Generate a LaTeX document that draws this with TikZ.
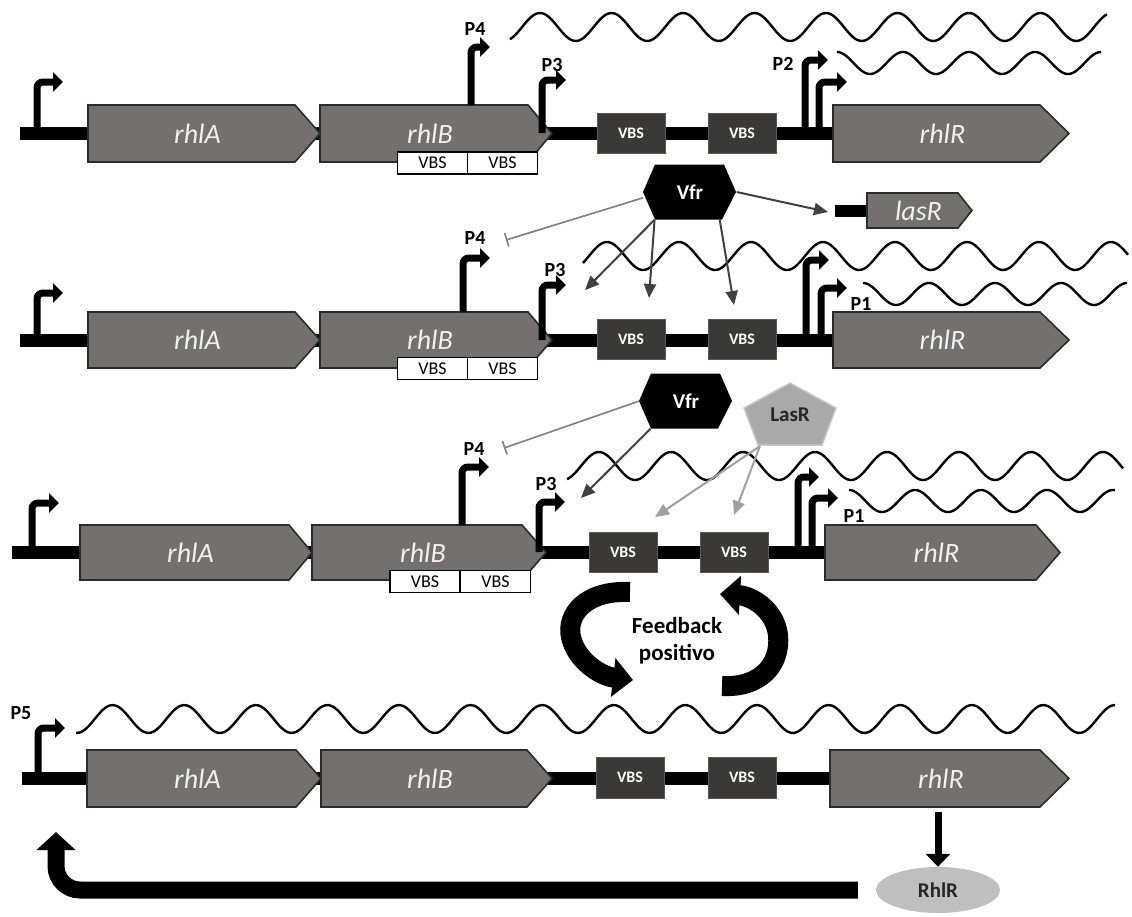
\documentclass[tikz,border=0pt]{standalone}
\usepackage{fontspec}
\setmainfont{Carlito}
\usetikzlibrary{arrows.meta,shapes.geometric}

\definecolor{genefill}{HTML}{757070}
\definecolor{geneline}{HTML}{2B2B2B}
\definecolor{vbsfill}{HTML}{3B3838}
\definecolor{vbsline}{HTML}{595959}
\definecolor{lasfill}{HTML}{A9A9A9}
\definecolor{lasline}{HTML}{C8C8C8}
\definecolor{rhlfill}{HTML}{BFBFBF}
\definecolor{vfrgray}{HTML}{404040}
\definecolor{inhgray}{HTML}{7F7F7F}
\definecolor{lasgray}{HTML}{A0A0A0}

\tikzset{
  dna/.style={line width=13pt},
  genebody/.style={fill=genefill, draw=geneline, line width=1.6pt, line join=miter},
  genelabel/.style={text=white!94!black, font=\fontsize{28}{30}\selectfont\itshape, inner sep=0pt},
  promoter/.style={line width=7pt, rounded corners=6pt, -{Triangle[length=10pt,width=19pt]}},
  plabel/.style={font=\fontsize{20}{21}\selectfont\bfseries, inner sep=0pt},
  vbsdark/.style={fill=vbsfill, draw=vbsline, line width=1pt, minimum width=68pt, minimum height=40pt, inner sep=0pt, text=white, font=\fontsize{16}{17}\selectfont\bfseries},
  vbswhite/.style={fill=white, draw=black, line width=1.6pt, minimum width=70pt, minimum height=22pt, inner sep=0pt, font=\fontsize{18}{19}\selectfont},
  waveline/.style={line width=2.4pt, line join=round},
  vfrarrow/.style={draw=vfrgray, line width=2pt, -{Triangle[length=14pt,width=12pt]}},
  inhibit/.style={draw=inhgray, line width=1.6pt, -{Bar[width=14pt]}},
  lasarrow/.style={draw=lasgray, line width=2pt, -{Triangle[length=14pt,width=12pt]}},
  vfrtext/.style={minimum width=93pt, minimum height=55pt, inner sep=0pt, text=white, font=\fontsize{21}{22}\selectfont\bfseries},
  fbarrow/.style={line width=20pt, -{Triangle[length=20pt,width=38pt]}},
}

% gene: name, left x, end of body, tip x, centre y, half height, label
\newcommand{\genebox}[7]{%
  \path[genebody] (#2,#5-#6) -- (#3,#5-#6) -- (#4,#5) -- (#3,#5+#6) -- (#2,#5+#6) -- cycle;
  \node[genelabel, minimum width={#3-#2}, minimum height={2*#6}] (#1) at ({(#2+#3)/2+6},#5) {#7};
}
% promoter arrow: x, base y, top y, tip x
\newcommand{\prom}[4]{\draw[promoter] (#1,#2) |- (#4,#3);}
% transcript: from, to, centre y, amplitude, wavelength, x of a crest
\newcommand{\wavy}[6]{%
  \draw[waveline] plot[domain=#1:#2, samples=280, smooth] (\x, {#3-#4*cos(((\x-#6)/#5)*360)});
}
% Vfr hexagon around a centre
\newcommand{\vfrhex}[3]{%
  \fill[black, shift={(#2,#3)}] (-35,-27.5) -- (34,-27.5) -- (46,0) -- (32,27.5) -- (-35,27.5) -- (-47,0) -- cycle;
  \node[vfrtext] (#1) at (#2,#3) {Vfr};
}

\begin{document}
\begin{tikzpicture}[x=1pt, y=-1pt]
\useasboundingbox (0,0) rectangle (1132,916);
\fill[white] (0,0) rectangle (1132,916);

% ---------------- operon 1 ----------------
\draw[dna] (20,133) -- (833,133);
\prom{37}{133}{82}{63}
\genebox{rhlAi}{88}{295}{320}{133.5}{28.5}{rhlA}
\genebox{rhlBi}{320}{528}{552}{133.5}{28.5}{rhlB}
\genebox{rhlRi}{833}{1040}{1069}{133.5}{28.5}{rhlR}
\node[vbswhite] (w1a) at (432.5,163) {VBS};
\node[vbswhite] (w1b) at (502.5,163) {VBS};
\node[vbsdark] (d1a) at (631,133) {VBS};
\node[vbsdark] (d1b) at (742,133) {VBS};
\prom{471}{105}{47}{490}
\node[plabel] (p4i) at (475,29) {P4};
\prom{542}{133}{80}{566}
\node[plabel] (p3i) at (552,65) {P3};
\prom{805}{133}{60}{828}
\node[plabel] (p2i) at (783,64) {P2};
\prom{819}{133}{82}{847}
\wavy{510}{1107}{27}{14}{71.5}{540}
\wavy{837}{1101}{63}{11}{66}{837}

% ---------------- operon 2 ----------------
\draw[dna] (20,340) -- (833,340);
\prom{37}{340}{293}{63}
\genebox{rhlAii}{88}{295}{320}{340}{28}{rhlA}
\genebox{rhlBii}{320}{528}{552}{340}{28}{rhlB}
\genebox{rhlRii}{833}{1040}{1069}{340}{28}{rhlR}
\node[vbswhite] (w2a) at (432.5,368.5) {VBS};
\node[vbswhite] (w2b) at (502.5,368.5) {VBS};
\node[vbsdark] (d2a) at (631,339) {VBS};
\node[vbsdark] (d2b) at (742,339) {VBS};
\prom{463}{312}{258}{490}
\node[plabel] (p4ii) at (475,238) {P4};
\prom{542}{340}{285}{566}
\node[plabel] (p3ii) at (555,270) {P3};
\prom{806}{340}{260}{829}
\prom{821}{340}{288}{847}
\node[plabel] (p1ii) at (861,304) {P1};
\wavy{583}{1128}{256}{14}{72}{607}
\wavy{863}{1127}{294}{11}{66}{863}

\vfrhex{vfrA}{690}{192}
\draw[line width=12pt] (835,211) -- (868,211);
\genebox{lasRg}{867}{958}{972}{210.5}{17.5}{lasR}

\coordinate (t2p4) at (506,240);
\coordinate (t2p3) at (585,290);
\coordinate (t2v1) at (649,298);
\coordinate (t2v2) at (734,305);
\coordinate (t2las) at (828,212);
\draw[inhibit] (vfrA.-173) -- (t2p4);
\draw[vfrarrow] (vfrA.-142) -- (t2p3);
\draw[vfrarrow] (vfrA.-142) -- (t2v1);
\draw[vfrarrow] (vfrA.-43) -- (t2v2);
\draw[vfrarrow] (vfrA.east) -- (t2las);

% ---------------- operon 3 ----------------
\draw[dna] (12,552) -- (825,552);
\prom{32}{552}{503}{59}
\genebox{rhlAiii}{80}{289}{312}{552.5}{27.5}{rhlA}
\genebox{rhlBiii}{312}{522}{546}{552.5}{27.5}{rhlB}
\genebox{rhlRiii}{825}{1036}{1060}{552.5}{27.5}{rhlR}
\node[vbswhite] (w3a) at (425,581.5) {VBS};
\node[vbswhite] (w3b) at (495.5,581.5) {VBS};
\node[vbsdark] (d3a) at (623,552.5) {VBS};
\node[vbsdark] (d3b) at (734,552.5) {VBS};
\prom{462}{525}{467}{489}
\node[plabel] (p4iii) at (474,449) {P4};
\prom{539}{552}{502}{565}
\node[plabel] (p3iii) at (546,484) {P3};
\prom{798}{552}{477}{819}
\prom{812}{552}{498}{838}
\node[plabel] (p1iii) at (854,516) {P1};
\wavy{567}{1123}{466}{14}{72}{599}
\wavy{849}{1115}{501}{11}{66}{849}

\vfrhex{vfrB}{686}{401}
\fill[lasfill, draw=lasline, line width=1.5pt] (790,383) -- (836,408) -- (822,445) -- (758,445) -- (744,408) -- cycle;
\node[minimum width=92pt, minimum height=62pt, inner sep=0pt, text=black!85, font=\fontsize{21}{22}\selectfont\bfseries] (lasRp) at (790,415) {LasR};

\coordinate (t3p4) at (504,448);
\coordinate (t3p3) at (581,498);
\coordinate (t3v1) at (655,517);
\coordinate (t3v2) at (734,515);
\draw[inhibit] (vfrB.west) -- (t3p4);
\draw[vfrarrow] (vfrB.-142) -- (t3p3);
\draw[lasarrow] (lasRp.-134) -- (t3v1);
\draw[lasarrow] (lasRp.-134) -- (t3v2);

% positive feedback loop
\draw[fbarrow] (630,592) .. controls (585,590) and (566,615) .. (571,637) .. controls (576,660) and (600,676) .. (633,680);
\draw[fbarrow] (722,686) .. controls (760,688) and (781,665) .. (778,635) .. controls (775,610) and (752,596) .. (720,594);
\node[align=center, inner sep=0pt, font=\fontsize{23}{27}\selectfont\bfseries] (fb) at (677,641) {Feedback\\positivo};

% ---------------- operon 4 ----------------
\draw[dna] (22,778) -- (830,778);
\prom{38}{778}{728}{65}
\node[plabel] (p5iv) at (21,713) {P5};
\genebox{rhlAiv}{87}{296}{321}{778.5}{28.5}{rhlA}
\genebox{rhlBiv}{321}{527}{552}{778.5}{28.5}{rhlB}
\genebox{rhlRiv}{830}{1040}{1069}{778.5}{28.5}{rhlR}
\node[vbsdark, minimum height=41pt] (d4a) at (630,777.5) {VBS};
\node[vbsdark, minimum height=41pt] (d4b) at (742,777.5) {VBS};
\wavy{76}{1115}{719}{14}{71.6}{1115}

\node[ellipse, fill=rhlfill, minimum width=124pt, minimum height=46pt, inner sep=0pt, text=black!85, font=\fontsize{21}{22}\selectfont\bfseries] (rhlRp) at (938,890) {RhlR};
\coordinate (t4ret) at (56,832);
\draw[line width=7pt, -{Triangle[length=13pt,width=24pt]}] ([shift={(-3pt,-5pt)}]rhlRiv.south) -- (rhlRp.north);
\draw[line width=17pt, rounded corners=24pt, -{Triangle[length=18pt,width=38pt]}] ([xshift=-18pt]rhlRp.west) -| (t4ret);
\end{tikzpicture}
\end{document}
